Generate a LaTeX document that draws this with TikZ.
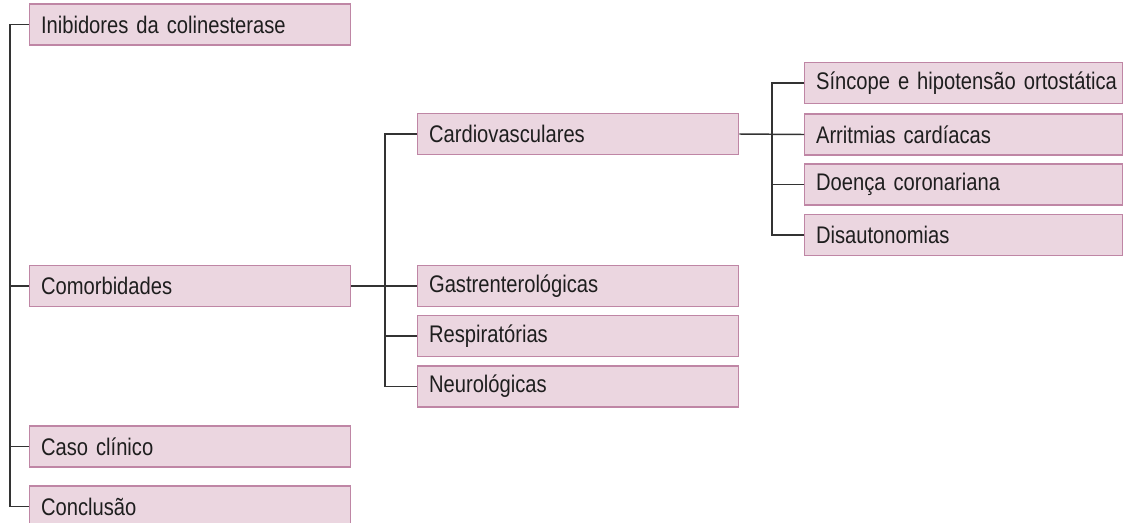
\documentclass[tikz,border=0pt]{standalone}
\usepackage{fontspec}
\setmainfont{Liberation Sans}[FakeStretch=0.84]
\newcommand\topicfont{\fontsize{18}{20}\selectfont}
\begin{document}
\begin{tikzpicture}[x=0.75pt,y=-0.75pt,
  topic/.style={draw=boxline, fill=boxbg, line width=1.1pt, anchor=west,
    minimum height=30.5pt, inner xsep=8.5pt, inner ysep=0pt, align=left,
    text=txt, font=\topicfont},
  w1/.style={topic, text width=223.75pt},
  w3/.style={topic, text width=221.5pt},
  link/.style={draw=linec, line width=1.1pt}]
\definecolor{boxbg}{HTML}{EBD6E0}
\definecolor{boxline}{HTML}{BF86A5}
\definecolor{linec}{HTML}{333333}
\definecolor{txt}{HTML}{1E1E1E}
\useasboundingbox (0,0) rectangle (1123,522);
\clip (0,0) rectangle (1123,522);
% level 1
\node[w1] (inib) at (29,24.5) {Inibidores da colinesterase};
\node[w1] (comorb) at (29,286) {Comorbidades};
\node[w1] (caso) at (29,446.5) {Caso clínico};
\node[w1] (concl) at (29,506.5) {Conclusão};
% level 2
\node[w1] (cardio) at (417,134) {Cardiovasculares};
\node[w1] (gastro) at (417,286) {Gastrenterológicas};
\node[w1] (resp) at (417,336) {Respiratórias};
\node[w1] (neuro) at (417,386.5) {Neurológicas};
% level 3
\node[w3] (sinc) at (804,83) {\mbox{Síncope e hipotensão ortostática}};
\node[w3] (arrit) at (804,134.5) {Arritmias cardíacas};
\node[w3] (coron) at (804,184.5) {Doença coronariana};
\node[w3] (disaut) at (804,235) {Disautonomias};
% spines
\coordinate (s1) at (10,0);
\coordinate (s2) at (385,0);
\coordinate (s3) at (772,0);
\draw[link] (inib.west) -- (s1 |- inib.west) -- (s1 |- concl.west) -- (concl.west);
\draw[link] (comorb.west) -- (s1 |- comorb.west);
\draw[link] (caso.west) -- (s1 |- caso.west);
\draw[link] (comorb.east) -- (gastro.west);
\draw[link] (cardio.west) -- (s2 |- cardio.west) -- (s2 |- neuro.west) -- (neuro.west);
\draw[link] (resp.west) -- (s2 |- resp.west);
\draw[link] (cardio.east) -- (arrit.west);
\draw[link] (sinc.west) -- (s3 |- sinc.west) -- (s3 |- disaut.west) -- (disaut.west);
\draw[link] (coron.west) -- (s3 |- coron.west);
\end{tikzpicture}
\end{document}
